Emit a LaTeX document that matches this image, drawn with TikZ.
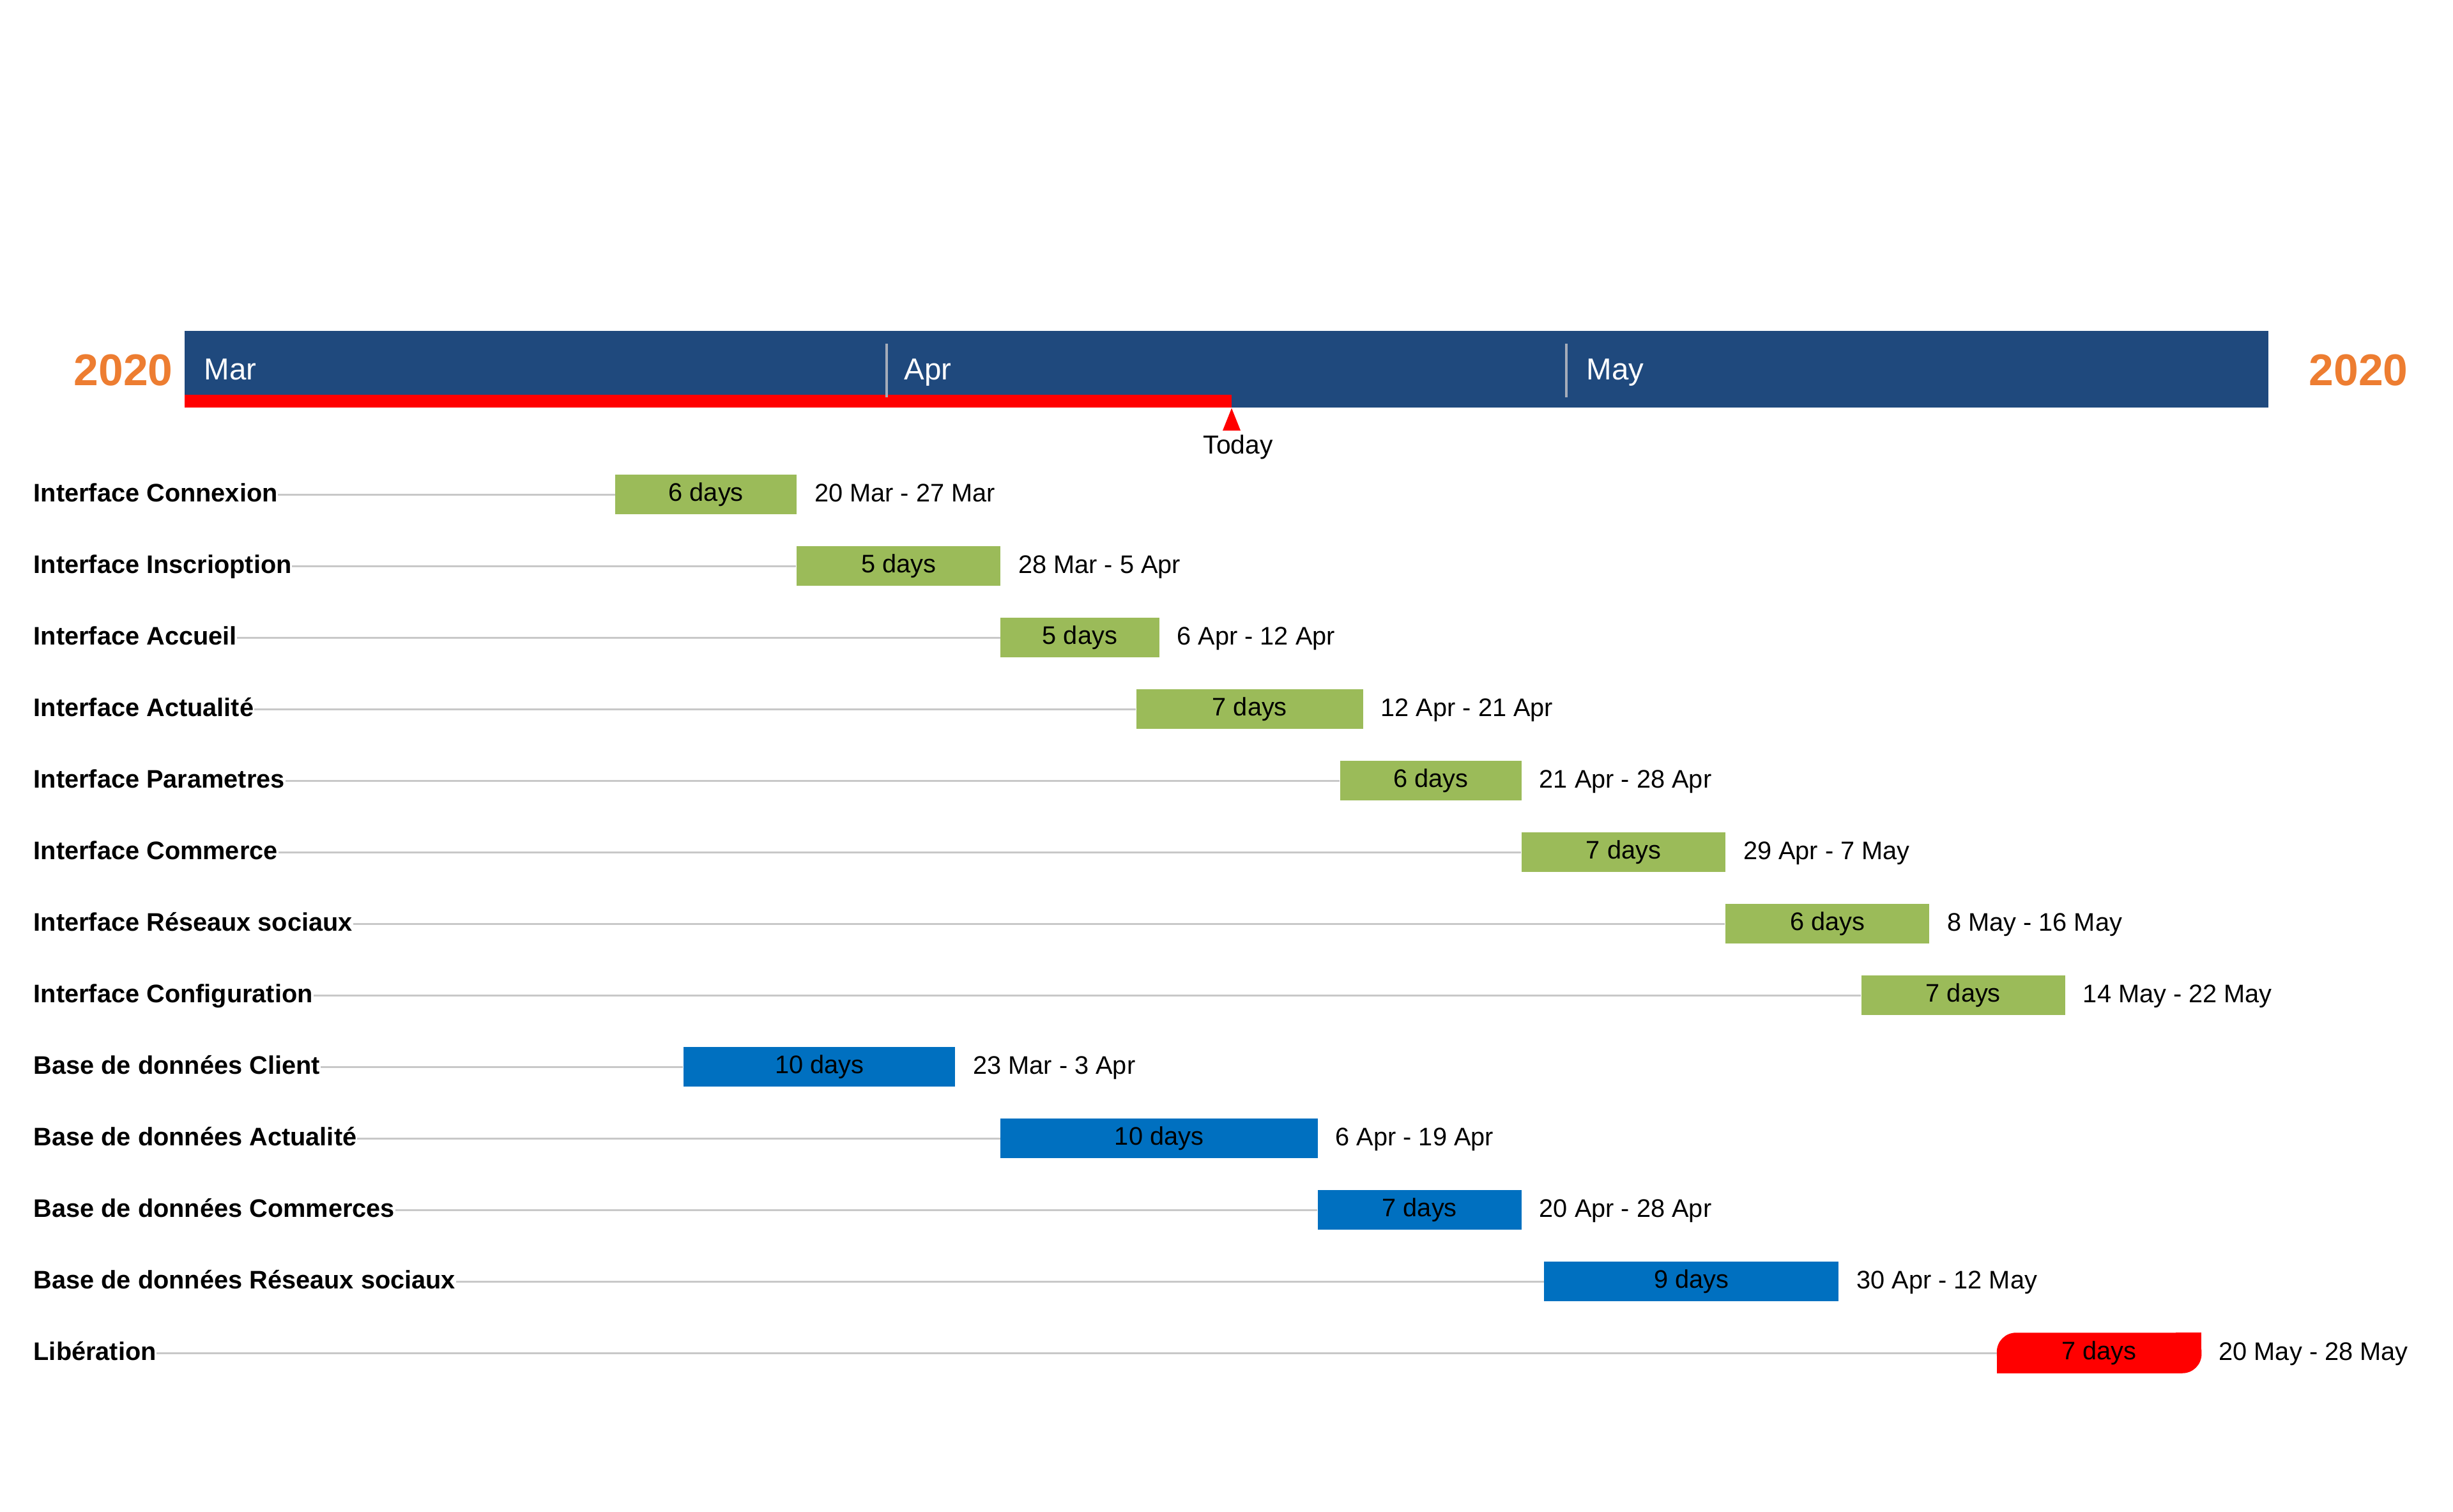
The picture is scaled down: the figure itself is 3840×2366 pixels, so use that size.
\documentclass[tikz,border=0pt]{standalone}
\usepackage{fontspec}
\setmainfont{Liberation Sans}
\usetikzlibrary{backgrounds}
\definecolor{hdrnavy}{HTML}{1F497D}
\definecolor{bargreen}{HTML}{9BBB59}
\definecolor{barblue}{HTML}{0070C0}
\definecolor{barred}{HTML}{FF0000}
\definecolor{yearorange}{HTML}{ED7D31}
\definecolor{linegray}{HTML}{C8C8C8}
\definecolor{sepgray}{RGB}{165,172,185}
\tikzset{
  rowlabel/.style={anchor=base west, inner sep=0pt, font=\fontsize{11.3}{13}\selectfont\bfseries},
  datelabel/.style={anchor=base west, inner sep=0pt, font=\fontsize{11.3}{13}\selectfont},
  barbox/.style={anchor=west, minimum height=0.62cm, inner sep=0pt, font=\fontsize{11.3}{13}\selectfont},
  greenbar/.style={fill=bargreen},
  bluebar/.style={fill=barblue},
  redbar/.style={},
  rowline/.style={draw=linegray, line width=0.03cm},
  monthtext/.style={anchor=base west, inner sep=0pt, text=white, font=\fontsize{13.5}{15}\selectfont},
  yeartext/.style={anchor=base west, inner sep=0pt, text=yearorange, font=\fontsize{19.8}{22}\selectfont\bfseries},
  monthsep/.style={draw=sepgray, line width=0.04cm},
}
\newcommand\GanttRow[8]{%
  \pgfmathsetmacro\rowy{774+112*#2}%
  \pgfmathsetmacro\xa{289+35.46*#4}%
  \pgfmathsetmacro\xb{289+35.46*#5}%
  \pgfmathsetmacro\bw{35.46*(#5-#4)}%
  \node[rowlabel] (#1l) at (52,\rowy+11) {#3};
  \node[barbox,#6,minimum width=\bw*0.01cm] (#1b) at (\xa,\rowy) {#7};
  \node[datelabel] (#1d) at (\xb+28,\rowy+11) {#8};
  \draw[rowline] (#1l.east |- #1b.west) -- (#1b.west);
}
\begin{document}
\begin{tikzpicture}[x=0.01cm,y=-0.01cm]
\useasboundingbox (0,0) rectangle (3840,2366);
% header
\fill[hdrnavy] (289,518) rectangle (3551,638);
\fill[barred] (289,618) rectangle (1928,638);
\draw[monthsep] (1388,538) -- (1388,622);
\draw[monthsep] (2452,538) -- (2452,622);
\node[monthtext] (mar) at (319,594) {Mar};
\node[monthtext] (apr) at (1415,594) {Apr};
\node[monthtext] (may) at (2483,594) {May};
\node[yeartext] (yl) at (115,603) {2020};
\node[yeartext] (yr) at (3614,603) {2020};
% today marker
\fill[barred] (1928,639) -- (1914,674) -- (1942,674) -- cycle;
\node[anchor=base west, inner sep=0pt, font=\fontsize{11.6}{13}\selectfont] (today) at (1883,710) {Today};
% rows
\GanttRow{r1}{0}{Interface Connexion}{19}{27}{greenbar}{6 days}{20 Mar - 27 Mar}
\GanttRow{r2}{1}{Interface Inscrioption}{27}{36}{greenbar}{5 days}{28 Mar - 5 Apr}
\GanttRow{r3}{2}{Interface Accueil}{36}{43}{greenbar}{5 days}{6 Apr - 12 Apr}
\GanttRow{r4}{3}{Interface Actualité}{42}{52}{greenbar}{7 days}{12 Apr - 21 Apr}
\GanttRow{r5}{4}{Interface Parametres}{51}{59}{greenbar}{6 days}{21 Apr - 28 Apr}
\GanttRow{r6}{5}{Interface Commerce}{59}{68}{greenbar}{7 days}{29 Apr - 7 May}
\GanttRow{r7}{6}{Interface Réseaux sociaux}{68}{77}{greenbar}{6 days}{8 May - 16 May}
\GanttRow{r8}{7}{Interface Configuration}{74}{83}{greenbar}{7 days}{14 May - 22 May}
\GanttRow{r9}{8}{Base de données Client}{22}{34}{bluebar}{10 days}{23 Mar - 3 Apr}
\GanttRow{r10}{9}{Base de données Actualité}{36}{50}{bluebar}{10 days}{6 Apr - 19 Apr}
\GanttRow{r11}{10}{Base de données Commerces}{50}{59}{bluebar}{7 days}{20 Apr - 28 Apr}
\GanttRow{r12}{11}{Base de données Réseaux sociaux}{60}{73}{bluebar}{9 days}{30 Apr - 12 May}
\GanttRow{lib}{12}{Libération}{80}{89}{redbar}{7 days}{20 May - 28 May}
\begin{scope}[on background layer]
\fill[barred, rounded corners=0.3cm] (libb.south west) rectangle (libb.north east);
\fill[barred] (libb.south west) rectangle ([xshift=0.4cm,yshift=0.3cm]libb.south west);
\fill[barred] (libb.north east) rectangle ([xshift=-0.4cm,yshift=-0.3cm]libb.north east);
\end{scope}
\end{tikzpicture}
\end{document}
